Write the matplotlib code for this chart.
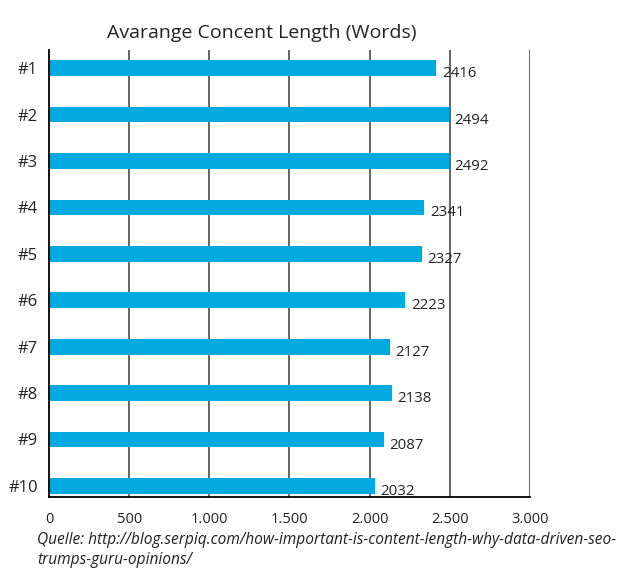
import matplotlib.pyplot as plt

plt.rcParams['font.family'] = ['Open Sans', 'DejaVu Sans']

ranks = ['#1', '#2', '#3', '#4', '#5', '#6', '#7', '#8', '#9', '#10']
words = [2416, 2494, 2492, 2341, 2327, 2223, 2127, 2138, 2087, 2032]
xticks = [0, 500, 1000, 1500, 2000, 2500, 3000]
xtick_labels = ['0', '500', '1.000', '1.500', '2.000', '2.500', '3.000']

fig = plt.figure(figsize=(6.39, 5.82), dpi=100)
ax = fig.add_axes([0.0767, 0.146, 0.7527, 0.768])

pos = list(range(len(ranks)))
for x in xticks[1:]:
    ax.axvline(x, color='#3a3a3a', lw=1.1, zorder=1)
ax.barh(pos, words, height=0.34, color='#00a9e0', zorder=2)

for p, w in zip(pos, words):
    ax.annotate(str(w), (w, p), xytext=(4, -4), textcoords='offset points',
                va='center', ha='left', fontsize=10.8, color='#222222')

ax.set_xlim(0, 3000)
ax.set_ylim(9.24, -0.39)
ax.set_yticks(pos)
ax.set_yticklabels(ranks, fontsize=12)
ax.set_xticks(xticks)
ax.set_xticklabels(xtick_labels, fontsize=10.5)
ax.tick_params(axis='both', length=0, colors='#222222')
ax.tick_params(axis='x', pad=11)
ax.tick_params(axis='y', pad=8)
for s in ['top', 'right']:
    ax.spines[s].set_visible(False)
for s in ['left', 'bottom']:
    ax.spines[s].set_linewidth(1.3)
    ax.spines[s].set_color('black')
    ax.spines[s].set_zorder(3)

fig.text(0.41, 0.943, 'Avarange Concent Length (Words)', ha='center', va='center',
         fontsize=14, color='#222222')
fig.text(0.058, 0.055, 'Quelle: http://blog.serpiq.com/how-important-is-content-length-why-data-driven-seo-\ntrumps-guru-opinions/',
         ha='left', va='center', fontsize=11.2, style='italic', color='#222222',
         linespacing=1.3)

fig.savefig('out.png', dpi=100)
